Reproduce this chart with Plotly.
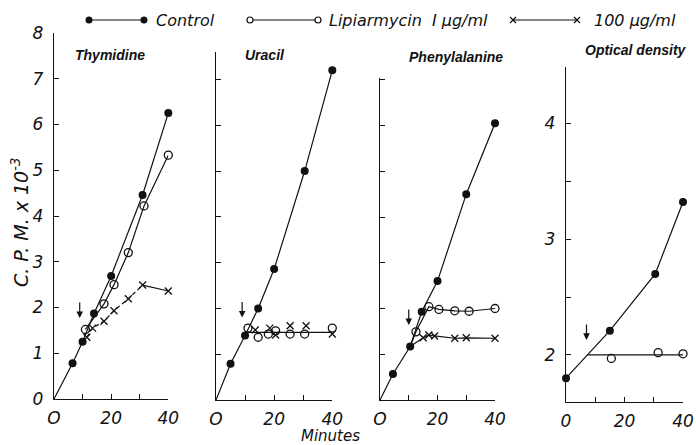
import plotly.graph_objects as go
import numpy as np

W, H = 696, 445

# ---------------- data ----------------
panel_titles = ["Thymidine", "Uracil", "Phenylalanine", "Optical density"]

thy_ctrl_x = [6.5, 10, 14, 20, 31, 40]
thy_ctrl_y = [0.78, 1.25, 1.87, 2.69, 4.46, 6.25]
thy_lip1_x = [11, 17.5, 21, 26, 31.5, 40]
thy_lip1_y = [1.52, 2.08, 2.5, 3.2, 4.22, 5.33]
thy_lip100_x = [11.5, 13.5, 17.5, 21, 26, 31, 40]
thy_lip100_y = [1.35, 1.55, 1.70, 1.93, 2.19, 2.49, 2.36]

ura_ctrl_x = [5, 10, 14.5, 20, 30.5, 40]
ura_ctrl_y = [0.79, 1.41, 2.0, 2.86, 5.0, 7.2]
ura_lip1_x = [11, 14.5, 18, 20.5, 25.5, 30.5, 40]
ura_lip1_y = [1.57, 1.37, 1.44, 1.51, 1.44, 1.44, 1.57]
ura_lip100_x = [13.5, 18.5, 20.5, 25.5, 31, 40]
ura_lip100_y = [1.53, 1.57, 1.42, 1.62, 1.62, 1.44]

phe_ctrl_x = [4.5, 10.5, 14.5, 20, 30, 40]
phe_ctrl_y = [0.57, 1.17, 1.93, 2.6, 4.5, 6.05]
phe_lip1_x = [12.5, 17, 20.5, 26, 31, 40]
phe_lip1_y = [1.49, 2.04, 1.98, 1.95, 1.94, 2.0]
phe_lip100_x = [15, 17, 19, 26, 30, 40]
phe_lip100_y = [1.36, 1.42, 1.40, 1.35, 1.36, 1.35]

od_ctrl_x = [0, 15, 30.5, 40]
od_ctrl_y = [1.8, 2.21, 2.7, 3.32]
od_lip1_x = [15.5, 31.5, 40]
od_lip1_y = [1.97, 2.02, 2.01]

arrow_x = [9, 9, 10, 7]
arrow_tip_y = [1.77, 1.8, 1.64, 2.13]

x_ticks = [0, 10, 20, 30, 40]
x_tick_text = ["O", "", "20", "", "40"]
od_x_tick_text = ["0", "", "20", "", "40"]
cpm_ticks = [0, 1, 2, 3, 4, 5, 6, 7, 8]
od_ticks = [2, 2.5, 3, 3.5, 4]
od_tick_text = ["2", "", "3", "", "4"]

# ---------------- layout geometry (pixels) ----------------
panels_px = [
    # x0, x1, ytop, ybottom, yrange
    (54, 168.3, 33, 399, [0, 8]),
    (216, 332.3, 52, 400, [0, 7.6]),
    (380, 495, 78, 400, [0, 7.04]),
    (566, 683, 67, 402, [1.594, 4.486]),
]

FONT = "DejaVu Sans"
TFONT = "Liberation Sans"
BLACK = "#111"


def px(x):
    return x / W


def py(y):
    return 1 - y / H


fig = go.Figure()

ax_common = dict(showline=True, linecolor=BLACK, linewidth=1.3, ticks="inside",
                 ticklen=5, tickwidth=1.2, tickcolor=BLACK, showgrid=False,
                 zeroline=False, mirror=False, automargin=False,
                 tickfont=dict(family=FONT, size=17, color=BLACK, style="italic"))

for i, (x0, x1, yt, yb, yr) in enumerate(panels_px):
    n = "" if i == 0 else str(i + 1)
    xa = dict(ax_common, domain=[px(x0), px(x1)], range=[0, 40], anchor="y" + n,
              tickvals=x_ticks, ticktext=x_tick_text if i < 3 else od_x_tick_text,
              ticklabelstandoff=3)
    if i == 3:
        ya = dict(ax_common, domain=[py(yb), py(yt)], range=yr, anchor="x" + n,
                  tickvals=od_ticks, ticktext=od_tick_text, ticklabelstandoff=6)
    else:
        ya = dict(ax_common, domain=[py(yb), py(yt)], range=yr, anchor="x" + n,
                  tickvals=[t for t in cpm_ticks if t <= yr[1] + 1e-6],
                  showticklabels=(i == 0), ticklabelstandoff=6)
    fig.layout["xaxis" + n] = xa
    fig.layout["yaxis" + n] = ya


def axes(i):
    n = "" if i == 0 else str(i + 1)
    return dict(xaxis="x" + n, yaxis="y" + n)


def line(i, x, y, dash="solid", w=1.2):
    fig.add_trace(go.Scatter(x=x, y=y, mode="lines", line=dict(color=BLACK, width=w, dash=dash),
                             showlegend=False, hoverinfo="skip", **axes(i)))


def marks(i, x, y, kind):
    if kind == "ctrl":
        m = dict(symbol="circle", size=8, color=BLACK, line=dict(width=0))
    elif kind == "lip1":
        m = dict(symbol="circle-open", size=8, color=BLACK, line=dict(width=1.3))
    else:
        m = dict(symbol="x-thin-open", size=7, color=BLACK, line=dict(width=1.3, color=BLACK))
    fig.add_trace(go.Scatter(x=x, y=y, mode="markers", marker=m, cliponaxis=False,
                             showlegend=False, **axes(i)))


# Panel 1: Thymidine
line(0, [0] + thy_ctrl_x, [0] + thy_ctrl_y)
line(0, thy_lip1_x, thy_lip1_y)
line(0, thy_lip100_x[:-1], thy_lip100_y[:-1], dash="4px,3px")
line(0, thy_lip100_x[-2:], thy_lip100_y[-2:])
marks(0, thy_ctrl_x, thy_ctrl_y, "ctrl")
marks(0, thy_lip1_x, thy_lip1_y, "lip1")
marks(0, thy_lip100_x, thy_lip100_y, "lip100")

# Panel 2: Uracil
line(1, [0] + ura_ctrl_x, [0] + ura_ctrl_y)
ura_level = float(np.mean(ura_lip1_y))
line(1, [ura_ctrl_x[1], ura_lip1_x[0], ura_lip1_x[-1]], [ura_ctrl_y[1], ura_level, ura_level])
marks(1, ura_ctrl_x, ura_ctrl_y, "ctrl")
marks(1, ura_lip1_x, ura_lip1_y, "lip1")
marks(1, ura_lip100_x, ura_lip100_y, "lip100")

# Panel 3: Phenylalanine
line(2, [0] + phe_ctrl_x, [0] + phe_ctrl_y)
line(2, [phe_ctrl_x[1]] + phe_lip1_x, [phe_ctrl_y[1]] + phe_lip1_y)
line(2, [phe_ctrl_x[1]] + phe_lip100_x, [phe_ctrl_y[1]] + phe_lip100_y)
marks(2, phe_ctrl_x, phe_ctrl_y, "ctrl")
marks(2, phe_lip1_x, phe_lip1_y, "lip1")
marks(2, phe_lip100_x, phe_lip100_y, "lip100")

# Panel 4: Optical density
line(3, od_ctrl_x, od_ctrl_y)
od_level = float(np.mean(od_lip1_y))
slope = (od_ctrl_y[1] - od_ctrl_y[0]) / (od_ctrl_x[1] - od_ctrl_x[0])
od_cross = od_ctrl_x[0] + (od_level - od_ctrl_y[0]) / slope
line(3, [od_cross, od_lip1_x[-1]], [od_level, od_level])
marks(3, od_ctrl_x, od_ctrl_y, "ctrl")
marks(3, od_lip1_x, od_lip1_y, "lip1")

# arrows (time of addition)
for i in range(4):
    n = "" if i == 0 else str(i + 1)
    fig.add_annotation(x=arrow_x[i], y=arrow_tip_y[i], xref="x" + n, yref="y" + n,
                       showarrow=True, ax=0, ay=-17, arrowhead=2, arrowsize=1.1,
                       arrowwidth=1.2, arrowcolor=BLACK, text="")

# panel titles
title_pos = [(110, 55), (265, 55), (456, 57), (636, 50)]
for t, (tx, ty) in zip(panel_titles, title_pos):
    fig.add_annotation(x=px(tx), y=py(ty), xref="paper", yref="paper", text=t, showarrow=False,
                       font=dict(family=TFONT, size=14, color=BLACK, style="italic", weight="bold"),
                       xanchor="center", yanchor="middle")

# axis titles
fig.add_annotation(x=px(20), y=py(223), xref="paper", yref="paper", textangle=-90,
                   text="C. P. M. x 10<sup>-3</sup>", showarrow=False,
                   xanchor="center", yanchor="middle",
                   font=dict(family=FONT, size=19, color=BLACK, style="italic"))
fig.add_annotation(x=px(330), y=py(436), xref="paper", yref="paper", text="Minutes",
                   showarrow=False, xanchor="center", yanchor="middle",
                   font=dict(family=FONT, size=15, color=BLACK, style="italic"))

# legend (drawn)
LY = 20
legend_items = [
    ("ctrl", 89, 144, 154, "Control"),
    ("lip1", 250, 318, 327, "Lipiarmycin  I µg/ml"),
    ("lip100", 513, 577, 592, "100 µg/ml"),
]
shapes = []
for kind, a, b, tx, label in legend_items:
    shapes.append(dict(type="line", xref="paper", yref="paper", x0=px(a), x1=px(b),
                       y0=py(LY), y1=py(LY), line=dict(color=BLACK, width=1.2)))
    for c in (a, b):
        if kind == "ctrl":
            shapes.append(dict(type="circle", xref="paper", yref="paper", x0=px(c - 3.5), x1=px(c + 3.5),
                               y0=py(LY + 3.5), y1=py(LY - 3.5), fillcolor=BLACK, line=dict(width=0)))
        elif kind == "lip1":
            shapes.append(dict(type="circle", xref="paper", yref="paper", x0=px(c - 3), x1=px(c + 3),
                               y0=py(LY + 3), y1=py(LY - 3), fillcolor="white",
                               line=dict(color=BLACK, width=1.2)))
        else:
            for d in (1, -1):
                shapes.append(dict(type="line", xref="paper", yref="paper", x0=px(c - 3), x1=px(c + 3),
                                   y0=py(LY - 3 * d), y1=py(LY + 3 * d), line=dict(color=BLACK, width=1.2)))
    fig.add_annotation(x=px(tx), y=py(LY), xref="paper", yref="paper", text=label, showarrow=False,
                       xanchor="left", yanchor="middle",
                       font=dict(family=FONT, size=16, color=BLACK, style="italic"))

fig.update_layout(width=W, height=H, margin=dict(l=0, r=0, t=0, b=0, autoexpand=False),
                  paper_bgcolor="white", plot_bgcolor="white", showlegend=False,
                  shapes=shapes)

fig.write_html("out.html")
